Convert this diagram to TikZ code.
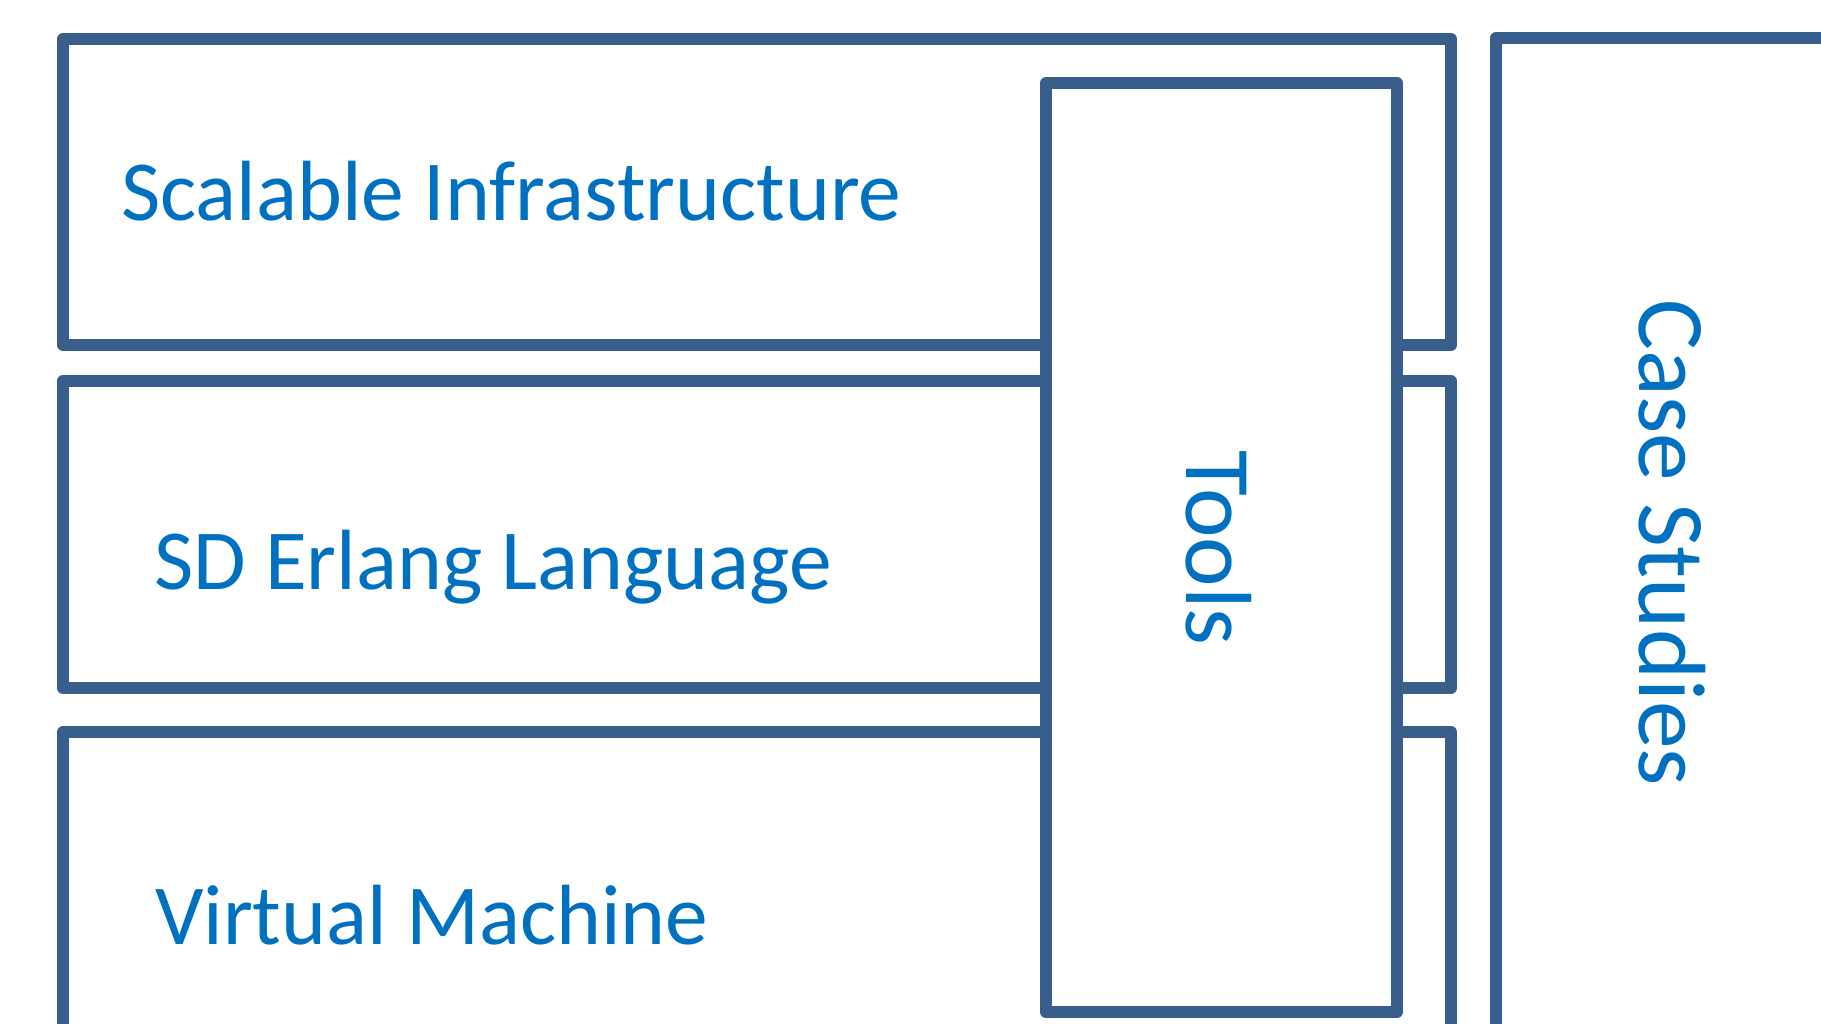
\documentclass[tikz,border=0pt]{standalone}
\usepackage{fontspec}
\setmainfont{Carlito}
\definecolor{boxline}{RGB}{58,94,140}
\definecolor{txt}{RGB}{0,112,192}
\begin{document}
\begin{tikzpicture}[x=1pt,y=-1pt,
  layer/.style={draw=boxline,line width=12pt,line join=round,rectangle,inner sep=0pt,outer sep=0pt,fill=white},
  lbl/.style={text=txt,inner sep=0pt,outer sep=0pt,font=\fontsize{85.5}{100}\selectfont},
  vlbl/.style={text=txt,inner sep=0pt,outer sep=0pt,rotate=-90}]
\useasboundingbox (0,0) rectangle (1821,1024);
\clip (0,0) rectangle (1821,1024);
\fill[white] (0,0) rectangle (1821,1024);
\node[layer,minimum width=1388pt,minimum height=306pt] (infra) at (757,192) {};
\node[layer,minimum width=1388pt,minimum height=307pt] (lang) at (757,534.5) {};
\node[layer,minimum width=1388pt,minimum height=418pt] (vm) at (757,941) {};
\node[layer,minimum width=351pt,minimum height=929pt] (tools) at (1221.5,547.5) {};
\node[layer,minimum width=504pt,minimum height=1112pt] (cases) at (1748,594) {};
\node[lbl,anchor=base west] (tinfra) at (121,221) {Scalable Infrastructure};
\node[lbl,anchor=base west] (tlang) at (154,589) {SD Erlang Language};
\node[lbl,anchor=base west] (tvm) at (155,944) {Virtual Machine};
\node[vlbl,font=\fontsize{94}{110}\selectfont] (ttools) at (1219,548) {Tools};
\node[vlbl,font=\fontsize{95.5}{110}\selectfont] (tcases) at (1672,543) {Case Studies};
\end{tikzpicture}
\end{document}
